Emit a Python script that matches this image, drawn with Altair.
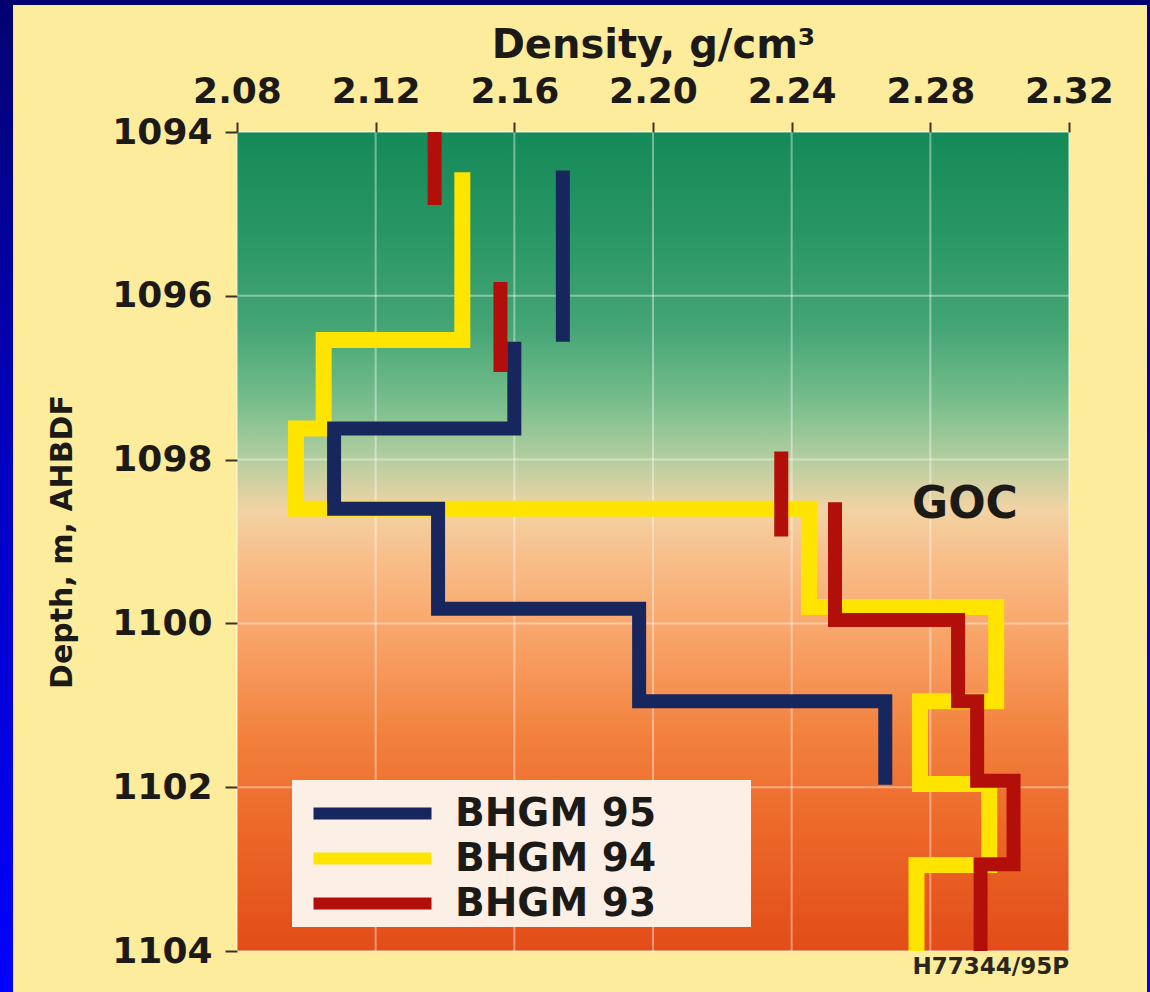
import altair as alt
import pandas as pd

# Axis ticks
density_ticks = [2.08, 2.12, 2.16, 2.20, 2.24, 2.28, 2.32]
depth_ticks = [1094, 1096, 1098, 1100, 1102, 1104]

series_names = ["BHGM 95", "BHGM 94", "BHGM 93"]
series_colors = ["#17275e", "#ffe400", "#b20f0a"]

# Step logs: piece id, interval density (g/cm3), interval top and base depth (m)
bhgm95_piece = [0, 1, 1, 1, 1, 1]
bhgm95_density = [2.174, 2.160, 2.108, 2.138, 2.196, 2.267]
bhgm95_top = [1094.47, 1096.56, 1097.62, 1098.60, 1099.82, 1100.95]
bhgm95_base = [1096.56, 1097.62, 1098.60, 1099.82, 1100.95, 1101.97]

bhgm94_piece = [0, 0, 0, 0, 0, 0, 0, 0]
bhgm94_density = [2.145, 2.105, 2.097, 2.245, 2.299, 2.277, 2.297, 2.276]
bhgm94_top = [1094.49, 1096.54, 1097.62, 1098.60, 1099.80, 1100.95, 1101.96, 1102.95]
bhgm94_base = [1096.54, 1097.62, 1098.60, 1099.80, 1100.95, 1101.96, 1102.95, 1104.00]

bhgm93_piece = [0, 1, 2, 3, 3, 3, 3, 3]
bhgm93_density = [2.137, 2.156, 2.237, 2.2525, 2.288, 2.2935, 2.304, 2.2945]
bhgm93_top = [1094.00, 1095.83, 1097.90, 1098.52, 1099.96, 1100.95, 1101.92, 1102.94]
bhgm93_base = [1094.89, 1096.93, 1098.94, 1099.96, 1100.95, 1101.92, 1102.94, 1104.00]

goc_label = ["GOC"]
goc_density = [2.290]
goc_depth = [1098.55]

figure_code = ["H77344/95P"]


def step_rows(name, piece, density, top, base):
    rows = []
    k = 0
    for p, d, t, b in zip(piece, density, top, base):
        for z in (t, b):
            rows.append({"series": name, "piece": f"{name}-{p}",
                         "density": d, "depth": z, "order": k})
            k += 1
    return rows


logs = pd.DataFrame(
    step_rows("BHGM 95", bhgm95_piece, bhgm95_density, bhgm95_top, bhgm95_base)
    + step_rows("BHGM 94", bhgm94_piece, bhgm94_density, bhgm94_top, bhgm94_base)
    + step_rows("BHGM 93", bhgm93_piece, bhgm93_density, bhgm93_top, bhgm93_base)
)

FONT = "DejaVu Sans"
INK = "#1c1a16"
W, H = 832, 819
PAD = {"left": 237, "top": 132, "right": 81, "bottom": 41}

x_scale = alt.Scale(domain=[2.08, 2.32], nice=False, zero=False)
y_scale = alt.Scale(domain=[1094, 1104], nice=False, zero=False, reverse=True)

x_axis = alt.Axis(
    orient="top", values=density_ticks, format=".2f", grid=False, domain=False,
    title="Density, g/cm³", titleFont=FONT, titleFontSize=40, titleFontWeight="bold",
    titleColor=INK, titleY=-75, titleBaseline="alphabetic",
    labelFont=FONT, labelFontSize=36, labelFontWeight="bold", labelColor=INK,
    labelBaseline="alphabetic", labelPadding=20, labelFlush=False, labelOverlap=False,
    tickSize=10, tickWidth=2, tickColor="#3b3424", zindex=1,
)
y_axis = alt.Axis(
    values=depth_ticks, format="d", grid=False, domain=False,
    title="Depth, m, AHBDF", titleFont=FONT, titleFontSize=30, titleFontWeight="bold",
    titleColor=INK, titleAngle=270, titleX=-175, titleY=H / 2,
    titleAlign="center", titleBaseline="middle",
    labelFont=FONT, labelFontSize=36, labelFontWeight="bold", labelColor=INK,
    labelPadding=13, labelFlush=False, labelOverlap=False,
    tickSize=12, tickWidth=2, tickColor="#3b3424", zindex=1,
)

# Legend box corner and size, in plot pixels
LEG_X, LEG_Y, LEG_W, LEG_H = 55, 648, 459, 147

legend = alt.Legend(
    title=None, orient="none", legendX=LEG_X, legendY=LEG_Y + 2, direction="vertical",
    padding=12,
    symbolType="M-5,0L5,0", symbolSize=557, symbolStrokeWidth=12, symbolOffset=49,
    labelOffset=63, labelFont=FONT, labelFontSize=39, labelFontWeight="bold",
    labelColor=INK, rowPadding=-4, labelLimit=0,
)

one = pd.DataFrame({"k": [0]})

# Page border and cream panel, drawn into the padding area
page = alt.Chart(one).mark_rect(
    color=alt.LinearGradient(
        gradient="linear", x1=0, x2=0, y1=0, y2=1,
        stops=[alt.GradientStop(color="#000070", offset=0),
               alt.GradientStop(color="#0000b8", offset=0.4),
               alt.GradientStop(color="#0000ff", offset=1)],
    )
).encode(x=alt.value(-237), x2=alt.value(913), y=alt.value(-132), y2=alt.value(860))

panel = alt.Chart(one).mark_rect(color="#fdec9c").encode(
    x=alt.value(-224), x2=alt.value(910), y=alt.value(-127), y2=alt.value(860)
)

# Gas cap (green) to oil leg (orange) shading of the plot area
plot_bg = alt.Chart(one).mark_rect(
    color=alt.LinearGradient(
        gradient="linear", x1=0, x2=0, y1=0, y2=1,
        stops=[alt.GradientStop(color="#148a58", offset=0),
               alt.GradientStop(color="#289664", offset=0.12),
               alt.GradientStop(color="#45a575", offset=0.24),
               alt.GradientStop(color="#78be8c", offset=0.33),
               alt.GradientStop(color="#b5cea0", offset=0.40),
               alt.GradientStop(color="#f2d3a4", offset=0.46),
               alt.GradientStop(color="#f9bb86", offset=0.53),
               alt.GradientStop(color="#f8a064", offset=0.63),
               alt.GradientStop(color="#f2803c", offset=0.74),
               alt.GradientStop(color="#ec6628", offset=0.86),
               alt.GradientStop(color="#e24c18", offset=1)],
    )
).encode(x=alt.value(0), x2=alt.value("width"), y=alt.value(0), y2=alt.value("height"))

grid_x = alt.Chart(pd.DataFrame({"density": density_ticks})).mark_rule(
    color="white", opacity=0.4, strokeWidth=2
).encode(x=alt.X("density:Q", scale=x_scale, axis=x_axis))

grid_y = alt.Chart(pd.DataFrame({"depth": depth_ticks})).mark_rule(
    color="white", opacity=0.4, strokeWidth=2
).encode(y=alt.Y("depth:Q", scale=y_scale, axis=y_axis))

legend_box = alt.Chart(one).mark_rect(color="#fcefe6").encode(
    x=alt.value(LEG_X), x2=alt.value(LEG_X + LEG_W),
    y=alt.value(LEG_Y), y2=alt.value(LEG_Y + LEG_H),
)


def log_layer(name, width):
    return alt.Chart(logs[logs["series"] == name]).mark_line(
        strokeWidth=width, strokeCap="butt", strokeJoin="miter"
    ).encode(
        x=alt.X("density:Q", scale=x_scale, axis=x_axis),
        y=alt.Y("depth:Q", scale=y_scale, axis=y_axis),
        color=alt.Color("series:N", scale=alt.Scale(domain=series_names, range=series_colors),
                        legend=legend),
        detail="piece:N",
        order="order:Q",
    )


goc = alt.Chart(pd.DataFrame({"density": goc_density, "depth": goc_depth, "label": goc_label})).mark_text(
    font=FONT, fontSize=44, fontWeight="bold", color=INK, align="center", baseline="middle"
).encode(
    x=alt.X("density:Q", scale=x_scale, axis=x_axis),
    y=alt.Y("depth:Q", scale=y_scale, axis=y_axis),
    text="label:N",
)

code = alt.Chart(pd.DataFrame({"label": figure_code})).mark_text(
    font=FONT, fontSize=23, fontWeight="bold", color="#2a261c", align="right", baseline="middle"
).encode(x=alt.value("width"), y=alt.value(835), text="label:N")

chart = alt.layer(
    page, panel, plot_bg, grid_x, grid_y,
    log_layer("BHGM 94", 16), log_layer("BHGM 93", 14), log_layer("BHGM 95", 14),
    legend_box, goc, code,
).properties(
    width=W, height=H, padding=PAD, autosize=alt.AutoSizeParams(type="none")
).configure_view(stroke=None)

chart.save("out.html", embed_options={"renderer": "svg", "actions": False})
